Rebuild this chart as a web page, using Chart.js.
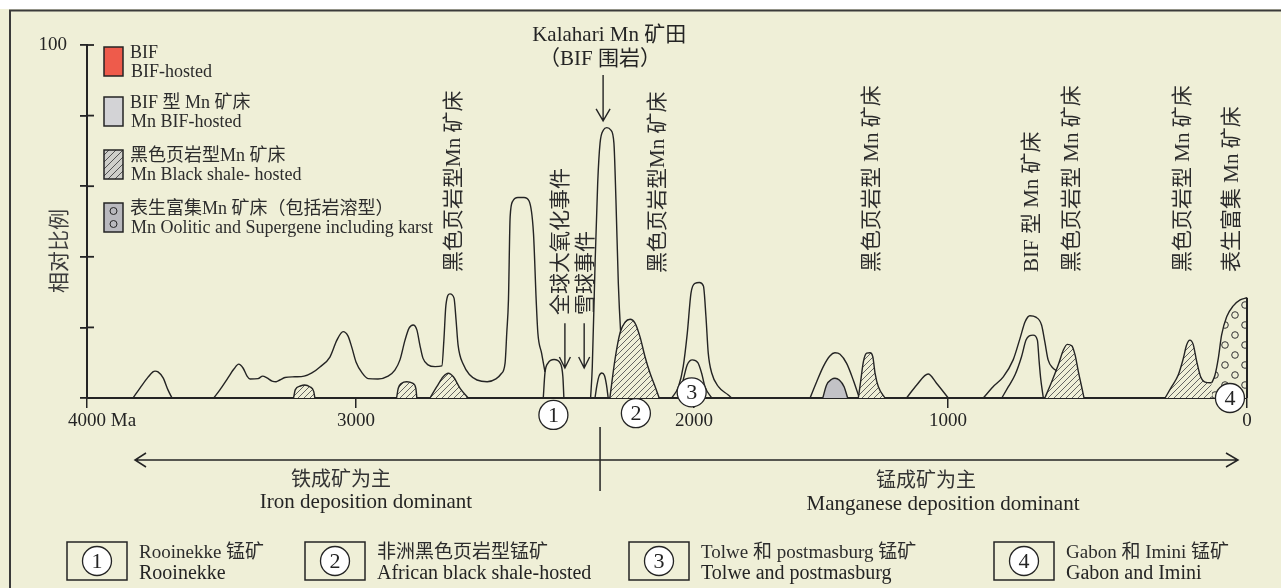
<!DOCTYPE html>
<html>
<head>
<meta charset="utf-8">
<script src="https://cdn.jsdelivr.net/npm/chart.js@4.4.1/dist/chart.umd.min.js"></script>
<style>
  html, body { margin: 0; padding: 0; background: #efefd7; overflow: hidden; }
  canvas { display: block; }
</style>
</head>
<body>
<canvas id="chart" width="1281" height="588" style="width:1281px;height:588px"></canvas>
<script>
// ---- Axis ticks ----
const ageTicks = [4000, 3000, 2000, 1000, 0];      // Ma
const yTicks = [0, 20, 40, 60, 80, 100];          // relative proportion

// ---- Outline curves: [age (Ma), relative proportion] ----
const peak3750 = [[3829,0],[3803,2.8],[3773,5.9],[3755,7.4],[3747,7.6],[3736,7.4],[3717,5.7],[3699,2.3],[3684,0]];
const archeanTrend = [[3529,0],[3506,2.3],[3476,5.7],[3454,8.2],[3436,9.6],[3420,8.5],[3405,6.2],[3394,5.4],[3364,5.5],[3347,6.2],[3331,5.7],[3312,4.8],[3297,4.6],[3283,5.1],[3264,5.8],[3227,6.0],[3193,6.2],[3164,7.1],[3134,8.8],[3097,11.6],[3071,16.4],[3048,18.8],[3030,17.6],[3015,14.2],[3000,10.2],[2982,7.1],[2964,5.5],[2935,5.4],[2905,6.2],[2885,7.9],[2870,10.8],[2855,16.4],[2843,19.8],[2831,20.7],[2820,19.3],[2811,15.0],[2802,11.3],[2787,9.4],[2766,8.9],[2746,9.1],[2740,16.4],[2734,26.3],[2722,29.5],[2710,28.3],[2704,22.1],[2698,15.0],[2683,9.6],[2663,6.5],[2642,5.1],[2612,4.6],[2586,5.4],[2571,6.8],[2559,9.9],[2554,18.4],[2549,27.8],[2544,51.3],[2536,55.8],[2521,56.8],[2503,56.8],[2488,55.8],[2475,46.7],[2467,27.8],[2462,18.4],[2451,12.7],[2441,7.4]];
const rooinekke = [[2446,0],[2441,7.1],[2432,9.9],[2414,10.9],[2396,9.9],[2388,6.0],[2385,0]];
const kalahari = [[2306,0],[2301,8.8],[2293,37.1],[2285,60.9],[2278,72.2],[2268,75.9],[2258,76.6],[2246,75.9],[2237,72.2],[2231,56.1],[2224,32.6],[2217,18.4],[2209,8.8],[2199,0]];
const kalahariInner = [[2293,0],[2287,3.7],[2281,6.2],[2273,7.1],[2265,6.4],[2259,3.7],[2254,0]];
const peak2000Outer = [[2066,0],[2046,3.2],[2032,8.9],[2020,18.3],[2009,29.7],[1996,32.5],[1979,32.7],[1963,31.7],[1953,23.0],[1944,12.7],[1930,7.0],[1904,3.2],[1865,0.85],[1852,0]];
const peak2000Inner = [[2046,0],[2032,5.1],[2020,9.4],[2005,10.8],[1985,10.0],[1970,7.0],[1957,3.2],[1930,0]];
const peak1450Outer = [[1543,0],[1517,4.6],[1491,8.9],[1465,11.9],[1445,12.8],[1425,12.4],[1399,9.8],[1373,5.1],[1349,0]];
const peak1100 = [[1163,0],[1123,3.7],[1078,6.8],[1045,4.2],[999,0]];
const peak750Outer = [[882,0],[849,3.2],[815,6.0],[782,10.8],[759,16.9],[742,21.6],[726,23.3],[706,22.9],[687,20.7],[676,15.9],[665,10.8],[648,8.4],[634,7.3],[609,0]];
const peak750Inner = [[820,0],[798,3.2],[776,6.5],[754,11.7],[739,16.4],[728,17.6],[715,17.8],[701,16.4],[695,10.3],[690,5.6],[681,0]];

// ---- Mn BIF-hosted (grey) ----
const mnBif1450 = [[1493,0],[1478,3.7],[1458,5.3],[1445,5.6],[1428,5.1],[1409,3.2],[1395,0]];

// ---- Mn black shale-hosted (hatched) ----
const shale3190 = [[3232,0],[3226,2.3],[3207,3.4],[3191,3.7],[3172,3.2],[3157,1.8],[3153,0]];
const shale2850 = [[2880,0],[2875,2.75],[2865,4.2],[2850,4.6],[2833,4.2],[2823,2.75],[2820,0]];
const shale2730 = [[2781,0],[2761,3.2],[2742,6.0],[2727,7.0],[2712,6.0],[2692,2.75],[2668,0]];
const shale2190 = [[2249,0],[2234,10.8],[2219,18.4],[2204,21.5],[2189,22.3],[2175,21.3],[2160,17.4],[2145,11.7],[2130,7.0],[2115,3.2],[2103,0]];
const shale1310 = [[1353,0],[1344,4.6],[1333,10.3],[1320,12.7],[1307,12.8],[1296,11.7],[1287,7.0],[1274,3.2],[1248,0]];
const shale600 = [[676,0],[653,4.6],[631,9.4],[614,13.6],[601,15.2],[586,14.8],[575,12.2],[564,7.5],[553,3.2],[545,0]];
const shale190 = [[274,0],[252,3.2],[230,6.5],[213,11.2],[202,15.0],[191,16.4],[180,15.2],[168,10.3],[155,6.0],[140,4.5],[118,4.3]];

// ---- Mn oolitic & supergene (dotted) ----
const supergene = [[118,4.3],[107,6.5],[96,11.2],[85,17.8],[68,23.0],[46,26.1],[23,27.8],[0,28.4]];

// ---- Numbered deposits ----
const siteNumbers = ['1', '2', '3', '4'];
const siteAges = [2416, 2172, 2007, 57];
const siteLevels = [-4.8, -4.3, 1.6, 0];
const siteZh = ['Rooinekke 锰矿', '非洲黑色页岩型锰矿', 'Tolwe 和 postmasburg 锰矿', 'Gabon 和 Imini 锰矿'];
const siteEn = ['Rooinekke', 'African black shale-hosted', 'Tolwe and postmasburg', 'Gabon and Imini'];

// ---- Deposit-type legend ----
const typeZh = ['BIF', 'BIF 型 Mn 矿床', '黑色页岩型Mn 矿床', '表生富集Mn 矿床（包括岩溶型）'];
const typeEn = ['BIF-hosted', 'Mn BIF-hosted', 'Mn Black shale- hosted', 'Mn Oolitic and Supergene including karst'];

// ---- Vertical annotations: text, age, level of text start ----
const noteText = ['黑色页岩型Mn 矿床', '全球大氧化事件', '雪球事件', '黑色页岩型Mn 矿床', '黑色页岩型 Mn 矿床', 'BIF 型 Mn 矿床', '黑色页岩型 Mn 矿床', '黑色页岩型 Mn 矿床', '表生富集 Mn 矿床'];
const noteAge = [2710, 2393, 2319, 2106, 1299, 719, 582, 211, 50];
const noteLevel = [35.7, 23.5, 23.5, 35.4, 35.7, 35.7, 35.7, 35.7, 35.7];

// ---- Event arrows: age, top level, tip level ----
const arrowAge = [2382, 2325, 2269];
const arrowTop = [21.2, 21.2, 91.5];
const arrowTip = [8.5, 8.5, 78.5];
const boundaryAge = 2278;

// ---------------------------------------------------------------
const BG = '#efefd7';
const INK = '#242424';
const SOFT = '#3a3a3a';
const FONT = '"Liberation Serif", "Noto Sans CJK SC", serif';

// Age axis: tick positions along the axis are not evenly spaced
const KNOT_AGE = [4000, 3000, 2000, 1000, 0];
const KNOT_POS = [0, 0.2319, 0.5233, 0.7422, 1];

class AgeScale extends Chart.LinearScale {
  static id = 'age';
  static defaults = Chart.LinearScale.defaults;
  ageToFrac(v) {
    const n = KNOT_AGE.length;
    for (let i = 0; i < n - 1; i++) {
      const a = KNOT_AGE[i], b = KNOT_AGE[i + 1];
      if (v >= b || i === n - 2) {
        const t = (a - v) / (a - b);
        return KNOT_POS[i] + t * (KNOT_POS[i + 1] - KNOT_POS[i]);
      }
    }
    return 0;
  }
  fracToAge(f) {
    const n = KNOT_POS.length;
    for (let i = 0; i < n - 1; i++) {
      if (f <= KNOT_POS[i + 1] || i === n - 2) {
        const t = (f - KNOT_POS[i]) / (KNOT_POS[i + 1] - KNOT_POS[i]);
        return KNOT_AGE[i] + t * (KNOT_AGE[i + 1] - KNOT_AGE[i]);
      }
    }
    return 0;
  }
  getPixelForValue(v) {
    return v === null || v === undefined ? NaN : this.getPixelForDecimal(this.ageToFrac(v));
  }
  getValueForPixel(p) {
    return this.fracToAge(this.getDecimalForPixel(p));
  }
}
Chart.register(AgeScale);

function hatchPattern(bg, line, gap) {
  const c = document.createElement('canvas');
  c.width = c.height = gap;
  const g = c.getContext('2d');
  g.fillStyle = bg; g.fillRect(0, 0, gap, gap);
  g.strokeStyle = line; g.lineWidth = 0.9;
  g.beginPath();
  g.moveTo(-1, gap + 1); g.lineTo(gap + 1, -1);
  g.moveTo(-1, 1); g.lineTo(1, -1);
  g.moveTo(gap - 1, gap + 1); g.lineTo(gap + 1, gap - 1);
  g.stroke();
  return g.createPattern(c, 'repeat');
}
function dotPattern(bg) {
  const c = document.createElement('canvas');
  c.width = 20; c.height = 20;
  const g = c.getContext('2d');
  g.fillStyle = bg; g.fillRect(0, 0, 20, 20);
  g.strokeStyle = '#333'; g.lineWidth = 1;
  [[5, 5], [15, 15]].forEach(([x, y]) => { g.beginPath(); g.arc(x, y, 3.3, 0, Math.PI * 2); g.stroke(); });
  return g.createPattern(c, 'repeat');
}
const HATCH = hatchPattern(BG, '#555', 6);
const HATCH_KEY = hatchPattern('#cfcfca', '#444', 7);
const DOTS = dotPattern(BG);

const pts = arr => arr.map(([x, y]) => ({ x, y }));
function shape(label, arr, extra) {
  return Object.assign({
    label, data: pts(arr), borderColor: INK, borderWidth: 1.4, pointRadius: 0,
    fill: false, cubicInterpolationMode: 'monotone', clip: false, order: 6
  }, extra || {});
}
const hatched = (label, arr) => shape(label, arr, { fill: 'origin', backgroundColor: HATCH, order: 3 });

const datasets = [
  shape('peak3750', peak3750),
  shape('archeanTrend', archeanTrend),
  shape('rooinekke', rooinekke),
  shape('kalahari', kalahari),
  shape('kalahariInner', kalahariInner),
  shape('peak2000Outer', peak2000Outer),
  shape('peak2000Inner', peak2000Inner),
  shape('peak1450Outer', peak1450Outer),
  shape('peak1100', peak1100),
  shape('peak750Outer', peak750Outer),
  shape('peak750Inner', peak750Inner),
  shape('mnBif1450', mnBif1450, { fill: 'origin', backgroundColor: '#c2c2c6', order: 4 }),
  hatched('shale3190', shale3190),
  hatched('shale2850', shale2850),
  hatched('shale2730', shale2730),
  hatched('shale2190', shale2190),
  hatched('shale1310', shale1310),
  hatched('shale600', shale600),
  hatched('shale190', shale190),
  shape('supergene', supergene, { fill: 'origin', backgroundColor: DOTS, order: 3 }),
  shape('supergeneEdge', [[0, supergene[supergene.length - 1][1]], [0, 0]],
        { cubicInterpolationMode: 'default', tension: 0, borderWidth: 2, order: 2 })
];

function text(ctx, s, x, y, size, align, color) {
  ctx.save();
  ctx.font = size + 'px ' + FONT;
  ctx.fillStyle = color || INK;
  ctx.textAlign = align || 'left';
  ctx.textBaseline = 'middle';
  ctx.fillText(s, x, y);
  ctx.restore();
}
function vtext(ctx, s, x, yBottom, size, color) {
  ctx.save();
  ctx.translate(x, yBottom);
  ctx.rotate(-Math.PI / 2);
  ctx.font = size + 'px ' + FONT;
  ctx.fillStyle = color || INK;
  ctx.textAlign = 'left';
  ctx.textBaseline = 'middle';
  ctx.fillText(s, 0, 0);
  ctx.restore();
}
function arrowDown(ctx, x, y0, y1, hw, hh) {
  ctx.beginPath();
  ctx.moveTo(x, y0); ctx.lineTo(x, y1);
  ctx.moveTo(x - hw, y1 - hh); ctx.lineTo(x, y1); ctx.lineTo(x + hw, y1 - hh);
  ctx.stroke();
}
function numberedCircle(ctx, n, x, y) {
  ctx.beginPath(); ctx.arc(x, y, 14.5, 0, Math.PI * 2);
  ctx.fillStyle = '#ffffff'; ctx.fill();
  ctx.lineWidth = 1.3; ctx.strokeStyle = INK; ctx.stroke();
  text(ctx, n, x, y + 1, 22, 'center');
}

const decorations = {
  id: 'decorations',
  beforeDraw(chart) {
    const ctx = chart.ctx;
    ctx.save();
    ctx.fillStyle = BG; ctx.fillRect(0, 0, chart.width, chart.height);
    ctx.fillStyle = '#ffffff'; ctx.fillRect(0, 0, chart.width, 9);
    ctx.strokeStyle = SOFT; ctx.lineWidth = 2;
    ctx.beginPath();
    ctx.moveTo(10, chart.height); ctx.lineTo(10, 10.5); ctx.lineTo(chart.width, 10.5);
    ctx.stroke();
    ctx.restore();
  },
  afterDraw(chart) {
    const ctx = chart.ctx;
    const xs = chart.scales.x, ys = chart.scales.y;
    const X = a => xs.getPixelForValue(a), Y = v => ys.getPixelForValue(v);
    ctx.save();
    ctx.strokeStyle = INK; ctx.lineCap = 'butt';

    // inner half of the y tick marks
    ctx.lineWidth = 1.8;
    yTicks.forEach(v => {
      ctx.beginPath(); ctx.moveTo(xs.left, Y(v)); ctx.lineTo(xs.left + 7, Y(v)); ctx.stroke();
    });

    // unit after the first age label
    ctx.font = '19px ' + FONT;
    const w4000 = ctx.measureText('4000').width;
    text(ctx, ' Ma', X(4000) + w4000 / 2, xs.top + 23.4, 19, 'left');

    // y axis title
    vtext(ctx, '相对比例', 60, Y(0) - 105, 21, '#3c3c3c');

    // numbered deposits on the time axis
    siteNumbers.forEach((n, i) => numberedCircle(ctx, n, X(siteAges[i]), Y(siteLevels[i])));

    // event arrows
    ctx.strokeStyle = INK; ctx.lineWidth = 1.4;
    arrowAge.forEach((a, i) => {
      const big = i === arrowAge.length - 1;
      arrowDown(ctx, X(a), Y(arrowTop[i]), Y(arrowTip[i]), big ? 7 : 5.5, big ? 12 : 11);
    });

    // Kalahari caption
    text(ctx, 'Kalahari Mn 矿田', X(2251), 35, 21, 'center');
    text(ctx, '（BIF 围岩）', X(2278), 59, 21, 'center');

    // vertical annotations
    noteText.forEach((s, i) => vtext(ctx, s, X(noteAge[i]), Y(noteLevel[i]), 21, '#2c2c2c'));

    // deposit-type legend
    const sx = 104, sw = 19, sh = 29, tops = [47, 97, 150, 203];
    const fills = ['#ee5b4b', '#d3d3d6', HATCH_KEY, '#b9b9be'];
    tops.forEach((t, i) => {
      ctx.fillStyle = fills[i];
      ctx.fillRect(sx, t, sw, sh);
      ctx.lineWidth = 1.5; ctx.strokeStyle = INK;
      ctx.strokeRect(sx, t, sw, sh);
      if (i === 3) {
        ctx.lineWidth = 1;
        [t + 8, t + 21].forEach(cy => { ctx.beginPath(); ctx.arc(sx + sw / 2, cy, 3.5, 0, Math.PI * 2); ctx.stroke(); });
      }
      text(ctx, typeZh[i], 130, t + 6, 18, 'left', '#2c2c2c');
      text(ctx, typeEn[i], 131, t + 25, 18, 'left', '#2c2c2c');
    });

    // dominance arrow and divider
    ctx.strokeStyle = INK; ctx.lineWidth = 1.5;
    const ay = 460, ax0 = 135, ax1 = 1238;
    ctx.beginPath();
    ctx.moveTo(ax0, ay); ctx.lineTo(ax1, ay);
    ctx.moveTo(ax0 + 11, ay - 7); ctx.lineTo(ax0, ay); ctx.lineTo(ax0 + 11, ay + 7);
    ctx.moveTo(ax1 - 12, ay - 7); ctx.lineTo(ax1, ay); ctx.lineTo(ax1 - 12, ay + 7);
    const bx = X(boundaryAge);
    ctx.moveTo(bx, 427); ctx.lineTo(bx, 491);
    ctx.stroke();
    text(ctx, '铁成矿为主', 341, 481, 20, 'center', '#333');
    text(ctx, 'Iron deposition dominant', 366, 502, 21, 'center');
    text(ctx, '锰成矿为主', 926, 482, 20, 'center', '#333');
    text(ctx, 'Manganese deposition dominant', 943, 504, 21, 'center');

    // numbered-site key
    const boxes = [67, 305, 629, 994];
    boxes.forEach((bxl, i) => {
      ctx.lineWidth = 1.5; ctx.strokeStyle = INK;
      ctx.strokeRect(bxl, 542, 60, 38);
      numberedCircle(ctx, siteNumbers[i], bxl + 30, 561);
      text(ctx, siteZh[i], bxl + 72, 553, 19, 'left', '#2c2c2c');
      text(ctx, siteEn[i], bxl + 72, 573.5, 20, 'left');
    });
    ctx.restore();
  }
};

new Chart(document.getElementById('chart'), {
  type: 'line',
  data: { datasets },
  options: {
    responsive: false,
    animation: false,
    events: [],
    layout: { padding: { left: 27, right: 34, top: 45, bottom: 150 } },
    plugins: { legend: { display: false }, tooltip: { enabled: false }, filler: { propagate: false } },
    scales: {
      x: {
        type: 'age', min: 0, max: 4000,
        afterBuildTicks: s => { s.ticks = ageTicks.map(v => ({ value: v })); },
        afterFit: s => { s.height = 40; },
        ticks: { font: { family: FONT, size: 19 }, color: INK, padding: 2, maxRotation: 0, autoSkip: false,
                 callback: v => String(v) },
        grid: { drawOnChartArea: false, drawTicks: true, tickLength: 10, color: INK, lineWidth: 1.5 },
        border: { display: true, color: INK, width: 2 }
      },
      y: {
        min: 0, max: 100,
        afterBuildTicks: s => { s.ticks = yTicks.map(v => ({ value: v })); },
        afterFit: s => { s.width = 60; },
        ticks: { font: { family: FONT, size: 19 }, color: INK, padding: 13,
                 callback: v => (v === 100 ? '100' : '') },
        grid: { drawOnChartArea: false, drawTicks: true, tickLength: 7, color: INK, lineWidth: 1.8 },
        border: { display: true, color: INK, width: 2 }
      }
    }
  },
  plugins: [decorations]
});
</script>
</body>
</html>
